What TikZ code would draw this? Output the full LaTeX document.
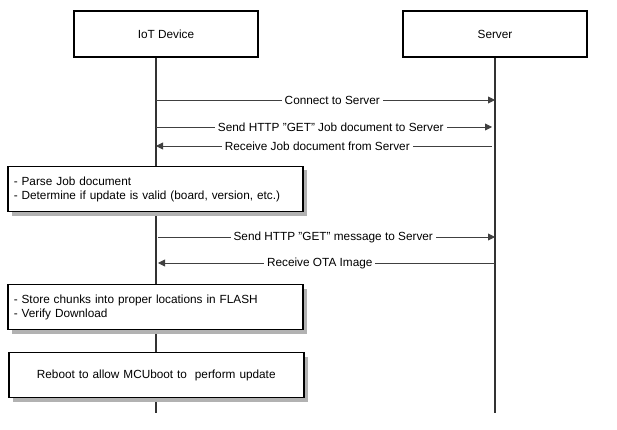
\documentclass[tikz,border=0pt]{standalone}
\usepackage{fontspec}
\setmainfont{Liberation Sans}
\usetikzlibrary{positioning}
\usetikzlibrary{arrows.meta}
\usetikzlibrary{shadows}

\begin{document}
\begin{tikzpicture}[
  x=1pt, y=-1pt,
  font=\fontsize{11.8}{14}\selectfont,
  participant/.style={draw, rectangle, line width=1.2pt, minimum width=184pt, minimum height=46pt},
  activity/.style={draw, rectangle, fill=white, line width=1.5pt, minimum width=295pt, minimum height=45pt,
    drop shadow={shadow xshift=4pt, shadow yshift=-4pt, fill=black!30, opacity=1}},
  lifeline/.style={line width=1.6pt, black!80},
  msg/.style={black!75, line width=0.9pt, -{Triangle[length=7pt, width=7pt]}},
  msglabel/.style={fill=white, text=black, inner sep=3pt, pos=0.52},
]
\useasboundingbox (0,0) rectangle (617,430);

\node (dev) [participant] at (166, 34) {IoT Device};
\node (srv) [participant] at (495, 34) {Server};

\coordinate (devend) at (156, 413);
\coordinate (srvend) at (495, 413);
\draw[lifeline] (devend |- dev.south) -- (devend);
\draw[lifeline] (srv.south) -- (srvend);

\foreach \n/\y/\xd/\xs in {1/100/156/495, 2/127/156/492, 3/146/156/492, 4/237/158/495, 5/263/158/495} {
  \coordinate (d\n) at (\xd, \y);
  \coordinate (s\n) at (\xs, \y);
}

\draw[msg] (d1) -- node[msglabel] {Connect to Server} (s1);
\draw[msg] (d2) -- node[msglabel] {Send HTTP "GET" Job document to Server} (s2);
\draw[msg] (s3) -- node[msglabel] {Receive Job document from Server} (d3);
\draw[msg] (d4) -- node[msglabel] {Send HTTP "GET" message to Server} (s4);
\draw[msg] (s5) -- node[msglabel] {Receive OTA Image} (d5);

\node (parse) [activity, anchor=west, align=left, text width=283pt] at (7, 189)
  {- Parse Job document\\- Determine if update is valid (board, version, etc.)};
\node (store) [activity, anchor=west, align=left, text width=283pt] at (7, 307)
  {- Store chunks into proper locations in FLASH\\- Verify Download};
\node (reboot) [activity, anchor=west, align=center, text width=283pt] at (8, 375)
  {Reboot to allow MCUboot to\ \ perform update};

\end{tikzpicture}
\end{document}
